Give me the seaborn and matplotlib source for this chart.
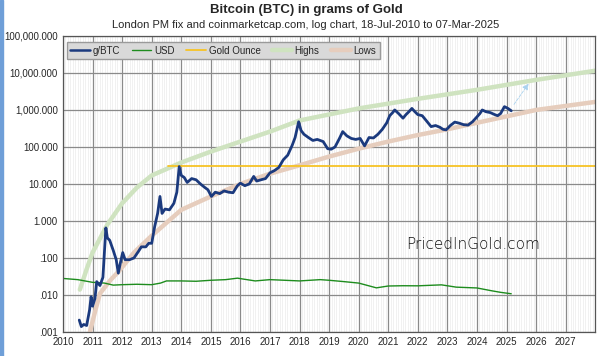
import numpy as np
import pandas as pd
import matplotlib
matplotlib.use("Agg")
import matplotlib.pyplot as plt
import matplotlib.ticker as mticker
from matplotlib.lines import Line2D
from matplotlib.patches import Rectangle
import seaborn as sns

# Bitcoin price in grams of gold
btc_year = [2010.55, 2010.62, 2010.7, 2010.8, 2010.9, 2010.95, 2011.0, 2011.08, 2011.14, 2011.25,
            2011.35, 2011.45, 2011.5, 2011.58, 2011.7, 2011.8, 2011.87, 2011.95, 2012.02, 2012.1,
            2012.25, 2012.4, 2012.55, 2012.65, 2012.8, 2012.9, 2013.0, 2013.1, 2013.2, 2013.28,
            2013.35, 2013.45, 2013.6, 2013.75, 2013.85, 2013.93, 2014.0, 2014.1, 2014.2, 2014.35,
            2014.5, 2014.65, 2014.8, 2014.9, 2015.02, 2015.15, 2015.3, 2015.45, 2015.6, 2015.75,
            2015.9, 2016.0, 2016.15, 2016.3, 2016.45, 2016.55, 2016.7, 2016.85, 2017.0, 2017.15,
            2017.3, 2017.45, 2017.6, 2017.75, 2017.85, 2017.97, 2018.05, 2018.15, 2018.3, 2018.45,
            2018.6, 2018.8, 2018.95, 2019.07, 2019.2, 2019.35, 2019.46, 2019.6, 2019.75, 2019.9,
            2020.05, 2020.2, 2020.35, 2020.5, 2020.65, 2020.8, 2020.95, 2021.05, 2021.15, 2021.22,
            2021.35, 2021.5, 2021.6, 2021.7, 2021.8, 2021.9, 2022.0, 2022.15, 2022.3, 2022.45,
            2022.6, 2022.75, 2022.85, 2022.96, 2023.1, 2023.25, 2023.4, 2023.55, 2023.7, 2023.85,
            2024.0, 2024.1, 2024.18, 2024.3, 2024.45, 2024.6, 2024.7, 2024.8, 2024.93, 2025.05,
            2025.16]
btc_grams = [0.0021, 0.0014, 0.0016, 0.0015, 0.004, 0.009, 0.005, 0.008, 0.023, 0.018,
             0.03, 0.65, 0.35, 0.3, 0.16, 0.09, 0.039, 0.08, 0.14, 0.09,
             0.09, 0.1, 0.15, 0.2, 0.2, 0.25, 0.25, 0.7, 1.6, 4.6,
             1.6, 2.1, 2.0, 3.0, 6.0, 29.5, 17.0, 15.0, 11.0, 14.0,
             13.0, 10.0, 8.0, 7.0, 4.6, 6.0, 5.5, 6.5, 6.0, 5.8,
             9.0, 10.5, 9.0, 10.0, 16.0, 12.0, 13.0, 14.0, 20.0, 23.0,
             28.0, 45.0, 60.0, 110.0, 180.0, 480.0, 280.0, 220.0, 180.0, 150.0,
             160.0, 140.0, 90.0, 87.0, 100.0, 170.0, 260.0, 200.0, 170.0, 160.0,
             170.0, 107.0, 180.0, 175.0, 220.0, 300.0, 450.0, 700.0, 850.0, 1000.0,
             800.0, 600.0, 750.0, 900.0, 1100.0, 900.0, 750.0, 700.0, 500.0, 355.0,
             380.0, 340.0, 300.0, 290.0, 380.0, 470.0, 440.0, 400.0, 390.0, 480.0,
             650.0, 800.0, 1000.0, 900.0, 850.0, 750.0, 700.0, 800.0, 1230.0, 1100.0,
             950.0]

# grams of gold per US dollar
usd_year = [2010.0, 2010.5, 2011.0, 2011.4, 2011.7, 2012.0, 2012.5, 2013.0, 2013.3, 2013.5,
            2014.0, 2014.5, 2015.0, 2015.5, 2015.9, 2016.5, 2017.0, 2017.5, 2018.0, 2018.7,
            2019.0, 2019.5, 2020.0, 2020.6, 2021.0, 2021.5, 2022.0, 2022.8, 2023.3, 2024.0,
            2024.5, 2024.8, 2025.16]
usd_grams = [0.028, 0.026, 0.022, 0.021, 0.0185, 0.019, 0.0195, 0.019, 0.021, 0.024,
             0.024, 0.0235, 0.025, 0.026, 0.0285, 0.024, 0.026, 0.025, 0.024, 0.026,
             0.025, 0.023, 0.021, 0.0156, 0.0175, 0.0178, 0.0177, 0.0188, 0.0163, 0.0155,
             0.013, 0.0118, 0.0108]

# one troy ounce in grams
gold_year = [2013.55, 2028.0]
gold_grams = [31.1, 31.1]

# highs / lows trend bands
highs_year = [2010.57, 2010.8, 2011.0, 2011.5, 2012.0, 2012.5, 2013.0, 2014.0, 2015.0, 2016.0,
              2017.0, 2018.0, 2020.0, 2022.0, 2024.0, 2026.0, 2028.0]
highs_grams = [0.014, 0.05, 0.14, 0.8, 3.0, 8.0, 17.0, 38.0, 75.0, 140.0,
               260.0, 520.0, 1100.0, 2000.0, 3500.0, 6500.0, 11500.0]
lows_year = [2010.91, 2011.1, 2011.25, 2011.6, 2011.9, 2012.4, 2013.0, 2014.0, 2015.0, 2016.0,
             2017.0, 2018.0, 2019.0, 2020.0, 2021.0, 2022.0, 2023.0, 2024.0, 2026.0, 2028.0]
lows_grams = [0.001, 0.004, 0.011, 0.025, 0.045, 0.14, 0.4, 2.0, 4.6, 10.0,
              19.0, 32.0, 55.0, 90.0, 140.0, 210.0, 300.0, 450.0, 1000.0, 1650.0]

# projection arrow
arrow_year = [2025.2, 2025.8]
arrow_grams = [1230.0, 5900.0]

years = list(range(2010, 2028))

c_btc = "#1b3a7e"
c_usd = "#1e8c1e"
c_gold = "#f7c325"
c_high = "#cfe3c0"
c_low = "#e6cdbd"

sns.set_style("white")
plt.rcParams["font.family"] = ["Liberation Sans", "DejaVu Sans"]

fig = plt.figure(figsize=(6, 3.56), dpi=100)
ax = fig.add_axes([0.105, 0.0674, 0.887, 0.8316])

sns.lineplot(x=highs_year, y=highs_grams, ax=ax, color=c_high, lw=3.2)
sns.lineplot(x=lows_year, y=lows_grams, ax=ax, color=c_low, lw=3.2)
sns.lineplot(x=gold_year, y=gold_grams, ax=ax, color=c_gold, lw=1.3)
sns.lineplot(x=usd_year, y=usd_grams, ax=ax, color=c_usd, lw=1.0)
sns.lineplot(x=btc_year, y=btc_grams, ax=ax, color=c_btc, lw=2.0)

ax.annotate("", xy=(arrow_year[1], arrow_grams[1]), xytext=(arrow_year[0], arrow_grams[0]),
            arrowprops=dict(arrowstyle="-|>", color="#a9d2ef", lw=0.6, ls="--",
                            mutation_scale=9))

ax.set_yscale("log")
ax.set_xlim(2010, 2028)
ax.set_ylim(0.001, 100000)
ax.set_xticks(years)
ax.set_xticklabels([str(y) for y in years])
ax.xaxis.set_minor_locator(mticker.MultipleLocator(1 / 12))
ax.yaxis.set_major_locator(mticker.LogLocator(base=10, numticks=20))
ax.yaxis.set_minor_locator(mticker.NullLocator())
ax.set_xlabel("")
ax.set_ylabel("")


def fmt(v, pos):
    s = f"{v:,.3f}"
    if v < 1:
        s = s.lstrip("0")
    return s


ax.yaxis.set_major_formatter(mticker.FuncFormatter(fmt))
ax.grid(which="major", color="#8a8a8a", lw=0.9)
ax.grid(which="minor", axis="x", color="#ececec", lw=0.5)
ax.set_axisbelow(True)
ax.tick_params(which="major", length=2.5, color="#8a8a8a", labelsize=7, pad=1.2)
ax.tick_params(which="minor", length=0, labelbottom=False, labelleft=False)
for s in ax.spines.values():
    s.set_color("#555555")
    s.set_linewidth(0.9)

handles = [Line2D([], [], color=c_btc, lw=1.8), Line2D([], [], color=c_usd, lw=1.0),
           Line2D([], [], color=c_gold, lw=1.3), Line2D([], [], color=c_high, lw=3.2),
           Line2D([], [], color=c_low, lw=3.2)]
labels = ["g/BTC", "USD", "Gold Ounce", "Highs", "Lows"]
leg = ax.legend(handles, labels, loc="upper left", bbox_to_anchor=(0.004, 0.985), ncol=5,
                fontsize=7, frameon=True, fancybox=False, handlelength=2.0,
                columnspacing=1.2, handletextpad=0.3, borderpad=0.35, borderaxespad=0.2)
leg.get_frame().set_facecolor("#d9d9d9")
leg.get_frame().set_edgecolor("#9a9a9a")
leg.get_frame().set_alpha(1)

ax.text(0.771, 0.294, "PricedInGold.com", transform=ax.transAxes, fontsize=11,
        fontweight="light", ha="center", va="center", color="#111111",
        family=["DejaVu Sans"])

fig.text(0.51, 0.972, "Bitcoin (BTC) in grams of Gold", ha="center", va="center",
         fontsize=9.5, fontweight="bold")
fig.text(0.509, 0.93, "London PM fix and coinmarketcap.com, log chart, 18-Jul-2010 to 07-Mar-2025",
         ha="center", va="center", fontsize=8)

fig.patches.append(Rectangle((0, 0), 0.005, 1, transform=fig.transFigure,
                             color="#6f9fd8", zorder=10))

fig.savefig("out.png", dpi=100)
